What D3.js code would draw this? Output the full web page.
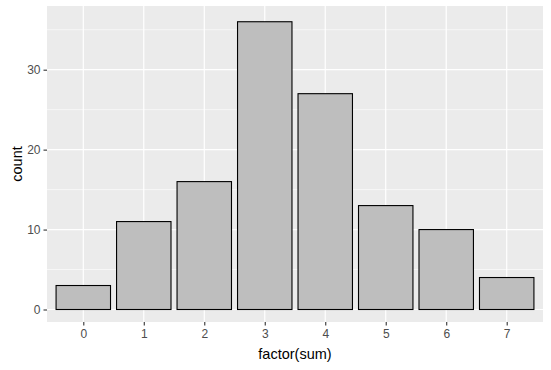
<!DOCTYPE html>
<html>
<head>
<meta charset="utf-8">
<script src="https://cdn.jsdelivr.net/npm/d3@7"></script>
<style>
  body { margin: 0; background: #fff; }
  text { font-family: "Liberation Sans", Arial, sans-serif; }
</style>
</head>
<body>
<div id="chart"></div>
<script>
// data
var categories = ["0", "1", "2", "3", "4", "5", "6", "7"];
var counts = [3, 11, 16, 36, 27, 13, 10, 4];
var yTicks = [0, 10, 20, 30];
var yMinor = [5, 15, 25, 35];

var width = 551, height = 370;
var panel = { left: 47, top: 6, right: 543, bottom: 322 };

var svg = d3.select("#chart").append("svg")
  .attr("width", width)
  .attr("height", height);

// discrete scale with ggplot's 0.6 expansion each side
var step = (panel.right - panel.left) / (categories.length - 1 + 1.2);
var x = d3.scalePoint()
  .domain(categories)
  .range([panel.left + 0.6 * step, panel.right - 0.6 * step]);

var y = d3.scaleLinear()
  .domain([0, 30])
  .range([309.5, 69.7]);

// panel background
svg.append("rect")
  .attr("x", panel.left).attr("y", panel.top)
  .attr("width", panel.right - panel.left)
  .attr("height", panel.bottom - panel.top)
  .attr("fill", "#ebebeb");

// minor grid
svg.selectAll(".minor").data(yMinor).enter().append("line")
  .attr("x1", panel.left).attr("x2", panel.right)
  .attr("y1", function(d) { return y(d); })
  .attr("y2", function(d) { return y(d); })
  .attr("stroke", "#fff").attr("stroke-width", 0.6);

// major grid
svg.selectAll(".majorY").data(yTicks).enter().append("line")
  .attr("x1", panel.left).attr("x2", panel.right)
  .attr("y1", function(d) { return y(d); })
  .attr("y2", function(d) { return y(d); })
  .attr("stroke", "#fff").attr("stroke-width", 1.2);

svg.selectAll(".majorX").data(categories).enter().append("line")
  .attr("y1", panel.top).attr("y2", panel.bottom)
  .attr("x1", function(d) { return x(d); })
  .attr("x2", function(d) { return x(d); })
  .attr("stroke", "#fff").attr("stroke-width", 1.2);

// bars
var barW = 0.9 * step;
svg.selectAll(".bar").data(counts).enter().append("rect")
  .attr("x", function(d, i) { return x(categories[i]) - barW / 2; })
  .attr("y", function(d) { return y(d); })
  .attr("width", barW)
  .attr("height", function(d) { return y(0) - y(d); })
  .attr("fill", "#bebebe")
  .attr("stroke", "#000")
  .attr("stroke-width", 1.1);

// axes
var xAxis = svg.append("g")
  .attr("transform", "translate(0," + panel.bottom + ")")
  .call(d3.axisBottom(x).tickSize(3.5).tickPadding(4));
var yAxis = svg.append("g")
  .attr("transform", "translate(" + panel.left + ",0)")
  .call(d3.axisLeft(y).tickValues(yTicks).tickSize(3.5).tickPadding(3));

[xAxis, yAxis].forEach(function(g) {
  g.attr("font-size", null).attr("font-family", null);
  g.select(".domain").remove();
  g.selectAll(".tick line").attr("stroke", "#333").attr("stroke-width", 1.1);
  g.selectAll(".tick text")
    .attr("fill", "#4d4d4d")
    .style("font-size", "12px");
});

// axis titles
svg.append("text")
  .attr("x", (panel.left + panel.right) / 2)
  .attr("y", 359)
  .attr("text-anchor", "middle")
  .attr("fill", "#000")
  .style("font-size", "14.5px")
  .text("factor(sum)");

svg.append("text")
  .attr("transform", "translate(22," + ((panel.top + panel.bottom) / 2) + ") rotate(-90)")
  .attr("text-anchor", "middle")
  .attr("fill", "#000")
  .style("font-size", "14.5px")
  .text("count");
</script>
</body>
</html>
